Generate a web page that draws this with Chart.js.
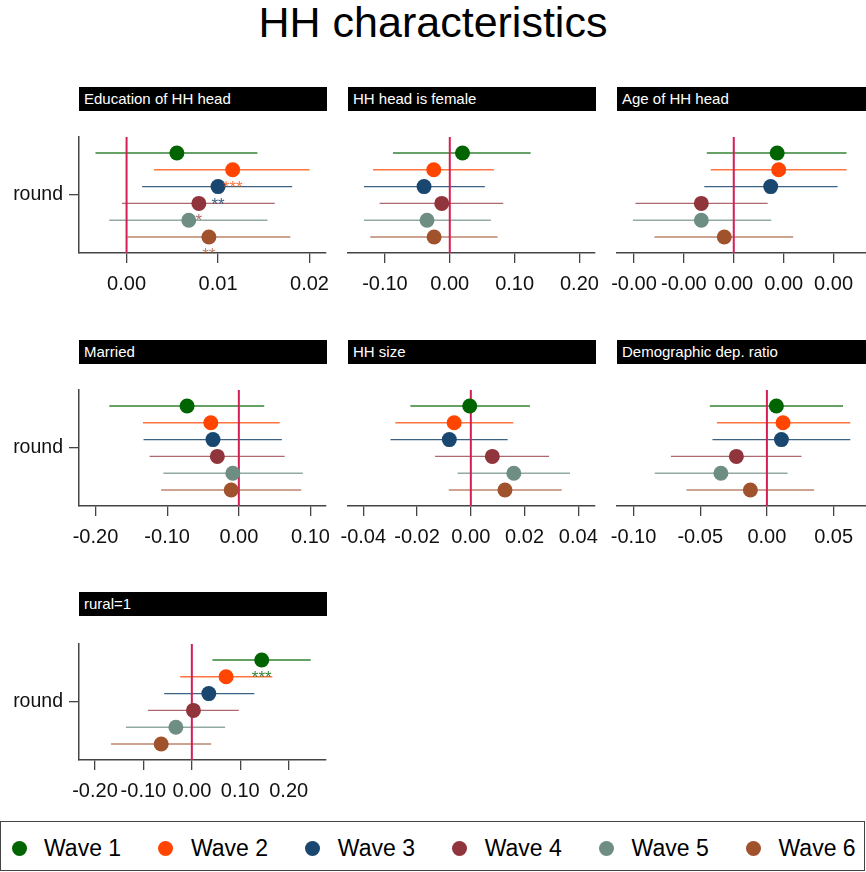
<!DOCTYPE html>
<html>
<head>
<meta charset="utf-8">
<script src="https://cdn.jsdelivr.net/npm/chart.js@4.4.0/dist/chart.umd.min.js"></script>
<style>
  body { margin:0; width:866px; height:872px; overflow:hidden; background:#fff; position:relative;
         font-family:"Liberation Sans", Arial, sans-serif; }
  #title { position:absolute; left:0; top:-2px; width:866px; text-align:center; font-size:43px; line-height:48px; color:#000; }
  .hdr { position:absolute; height:24px; background:#000; color:#fff; font-size:15px; line-height:24px;
         padding-left:5px; box-sizing:border-box; white-space:nowrap; overflow:hidden; }
  .pnl { position:absolute; }
  #legend { position:absolute; left:0; top:821px; width:865px; height:50px; border:1.5px solid #444; box-sizing:border-box; }
  .dot { position:absolute; width:15px; height:15px; border-radius:50%; top:19px; }
  .lab { position:absolute; top:12px; font-size:23px; line-height:28px; color:#000; white-space:nowrap; }
</style>
</head>
<body>
<div id="title">HH characteristics</div>
<div id="legend"></div>

<script>
const FONT = '"Liberation Sans", Arial, sans-serif';

// waves
const waves = ['Wave 1', 'Wave 2', 'Wave 3', 'Wave 4', 'Wave 5', 'Wave 6'];
const waveColors = ['#006400', '#ff4500', '#1a476f', '#90353b', '#6e8e84', '#a0522d'];
const ciColors = ['rgba(0,100,0,0.8)', 'rgba(255,69,0,0.75)', 'rgba(26,71,111,0.85)',
                  'rgba(144,53,59,0.75)', 'rgba(110,142,132,0.75)', 'rgba(160,82,45,0.7)'];

const panelTitles = ['Education of HH head', 'HH head is female', 'Age of HH head',
                     'Married', 'HH size', 'Demographic dep. ratio', 'rural=1'];

// coefficients and confidence bounds (wave 1..6)
const educB  = [0.0055, 0.0116, 0.0100, 0.0079, 0.0068, 0.0090];
const educLo = [-0.0034, 0.0030, 0.0017, -0.0005, -0.0019, 0.0001];
const educHi = [0.0143, 0.0200, 0.0181, 0.0162, 0.0154, 0.0179];

const femB  = [0.0196, -0.0247, -0.0397, -0.0124, -0.0351, -0.0242];
const femLo = [-0.0876, -0.1185, -0.1324, -0.1082, -0.1324, -0.1226];
const femHi = [0.1247, 0.0680, 0.0541, 0.0824, 0.0634, 0.0737];

const ageB  = [0.00087, 0.00090, 0.00074, -0.00065, -0.00065, -0.00019];
const ageLo = [-0.00054, -0.00046, -0.00059, -0.00197, -0.00202, -0.00159];
const ageHi = [0.00226, 0.00226, 0.00208, 0.00068, 0.00075, 0.00119];

const marB  = [-0.0722, -0.0391, -0.0361, -0.0300, -0.0084, -0.0107];
const marLo = [-0.1807, -0.1338, -0.1330, -0.1245, -0.1053, -0.1084];
const marHi = [0.0354, 0.0570, 0.0600, 0.0639, 0.0893, 0.0870];

const sizeB  = [-0.0004, -0.0062, -0.0080, 0.0080, 0.0160, 0.0127];
const sizeLo = [-0.0225, -0.0281, -0.0299, -0.0133, -0.0049, -0.0082];
const sizeHi = [0.0220, 0.0158, 0.0137, 0.0291, 0.0369, 0.0338];

const depB  = [0.0071, 0.0121, 0.0109, -0.0229, -0.0345, -0.0124];
const depLo = [-0.0428, -0.0375, -0.0408, -0.0720, -0.0841, -0.0603];
const depHi = [0.0571, 0.0625, 0.0625, 0.0259, 0.0155, 0.0354];

const ruralB  = [0.1443, 0.0707, 0.0350, 0.0033, -0.0330, -0.0633];
const ruralLo = [0.0425, -0.0241, -0.0571, -0.0907, -0.1361, -0.1670];
const ruralHi = [0.2454, 0.1662, 0.1290, 0.0969, 0.0687, 0.0398];

// significance stars
const educStars  = ['', '***', '**', '*', '', '**'];
const ruralStars = ['***', '', '', '', '', ''];
const noStars    = ['', '', '', '', '', ''];

// x axis ranges and tick labels
const educRange  = [-0.0052, 0.0218];  const educTicks  = [0, 0.01, 0.02];
const femRange   = [-0.157, 0.224];    const femTicks   = [-0.1, 0, 0.1, 0.2];
const ageRange   = [-0.00234, 0.00265]; const ageTicks  = [-0.002, -0.001, 0, 0.001, 0.002];
const marRange   = [-0.223, 0.1216];   const marTicks   = [-0.2, -0.1, 0, 0.1];
const sizeRange  = [-0.0457, 0.0462];  const sizeTicks  = [-0.04, -0.02, 0, 0.02, 0.04];
const depRange   = [-0.1124, 0.0743];  const depTicks   = [-0.1, -0.05, 0, 0.05];
const ruralRange = [-0.233, 0.277];    const ruralTicks = [-0.2, -0.1, 0, 0.1, 0.2];

// layout of the grid
const rowTop = [137, 390, 644];
const colLeft = [79, 348, 617];
const colWidth = [247, 247, 249];
const hdrTop = [87, 340, 592];
const PAD_TOP = 26;

function starPlugin(b, stars) {
  return {
    id: 'stars',
    afterDatasetsDraw(chart) {
      const ctx = chart.ctx;
      const x = chart.scales.x, y = chart.scales.y;
      ctx.save();
      ctx.font = '17px ' + FONT;
      ctx.textAlign = 'center';
      ctx.textBaseline = 'alphabetic';
      stars.forEach((s, i) => {
        if (!s) return;
        ctx.fillStyle = ciColors[i];
        ctx.fillText(s, x.getPixelForValue(b[i]), y.getPixelForValue(i + 1) + 23);
      });
      ctx.restore();
    }
  };
}

function makePanel(idx, b, lo, hi, range, ticks, stars) {
  const row = Math.floor(idx / 3), col = idx % 3;

  const hdr = document.createElement('div');
  hdr.className = 'hdr';
  hdr.style.left = colLeft[col] + 'px';
  hdr.style.top = hdrTop[row] + 'px';
  hdr.style.width = (colWidth[col] + 1) + 'px';
  hdr.textContent = panelTitles[idx];
  document.body.appendChild(hdr);

  const padL = col === 0 ? 0 : 25;
  const canvas = document.createElement('canvas');
  canvas.className = 'pnl';
  const left = col === 0 ? 0 : colLeft[col] - 25;
  const width = (col === 0 ? 79 : 25) + colWidth[col] + 25;
  const height = PAD_TOP + 116 + 48;
  canvas.width = width; canvas.height = height;
  canvas.style.left = left + 'px';
  canvas.style.top = (rowTop[row] - PAD_TOP) + 'px';
  canvas.style.width = width + 'px';
  canvas.style.height = height + 'px';
  document.body.appendChild(canvas);

  const datasets = [];
  waves.forEach((w, i) => {
    datasets.push({
      data: [{x: lo[i], y: i + 1}, {x: hi[i], y: i + 1}],
      showLine: true, borderColor: ciColors[i], borderWidth: 1.4,
      pointRadius: 0, order: 3
    });
  });
  datasets.push({
    data: [{x: 0, y: 0.05}, {x: 0, y: 6.95}],
    showLine: true, borderColor: '#d41f55', borderWidth: 2, pointRadius: 0, order: 2
  });
  datasets.push({
    data: b.map((v, i) => ({x: v, y: i + 1})),
    pointRadius: 7.5, pointBackgroundColor: waveColors, pointBorderColor: waveColors,
    pointBorderWidth: 0, showLine: false, order: 1, clip: false
  });

  new Chart(canvas.getContext('2d'), {
    type: 'scatter',
    data: { datasets },
    options: {
      responsive: false,
      animation: false,
      events: [],
      devicePixelRatio: 1,
      layout: { padding: { left: padL, right: 25, top: PAD_TOP, bottom: 0 } },
      plugins: { legend: { display: false }, tooltip: { enabled: false } },
      scales: {
        x: {
          type: 'linear', min: range[0], max: range[1],
          afterBuildTicks: s => { s.ticks = ticks.map(v => ({ value: v })); },
          ticks: { callback: v => Number(v).toFixed(2), font: { size: 20, family: FONT },
                   color: '#111', padding: 9, maxRotation: 0, autoSkip: false },
          grid: { drawOnChartArea: false, drawTicks: true, tickLength: 10, color: '#444', lineWidth: 1.3 },
          border: { display: true, color: '#444', width: 1.5 },
          afterFit: s => { s.height = 48; }
        },
        y: {
          type: 'linear', reverse: true, min: 0.05, max: 6.95, display: col === 0,
          afterBuildTicks: s => { s.ticks = [{ value: 3.5 }]; },
          ticks: { callback: () => 'round', font: { size: 19.5, family: FONT }, color: '#111', padding: 6 },
          grid: { drawOnChartArea: false, drawTicks: true, tickLength: 10, color: '#444', lineWidth: 1.3 },
          border: { display: true, color: '#444', width: 1.5 },
          afterFit: s => { if (col === 0) s.width = 79; }
        }
      }
    },
    plugins: [starPlugin(b, stars)]
  });
}

makePanel(0, educB, educLo, educHi, educRange, educTicks, educStars);
makePanel(1, femB, femLo, femHi, femRange, femTicks, noStars);
makePanel(2, ageB, ageLo, ageHi, ageRange, ageTicks, noStars);
makePanel(3, marB, marLo, marHi, marRange, marTicks, noStars);
makePanel(4, sizeB, sizeLo, sizeHi, sizeRange, sizeTicks, noStars);
makePanel(5, depB, depLo, depHi, depRange, depTicks, noStars);
makePanel(6, ruralB, ruralLo, ruralHi, ruralRange, ruralTicks, ruralStars);

// legend
const legend = document.getElementById('legend');
waves.forEach((w, i) => {
  const cx = 18 + i * 146.9;
  const dot = document.createElement('span');
  dot.className = 'dot';
  dot.style.left = (cx - 7.5) + 'px';
  dot.style.background = waveColors[i];
  legend.appendChild(dot);
  const lab = document.createElement('span');
  lab.className = 'lab';
  lab.style.left = (cx + 25) + 'px';
  lab.textContent = w;
  legend.appendChild(lab);
});
</script>
</body>
</html>
